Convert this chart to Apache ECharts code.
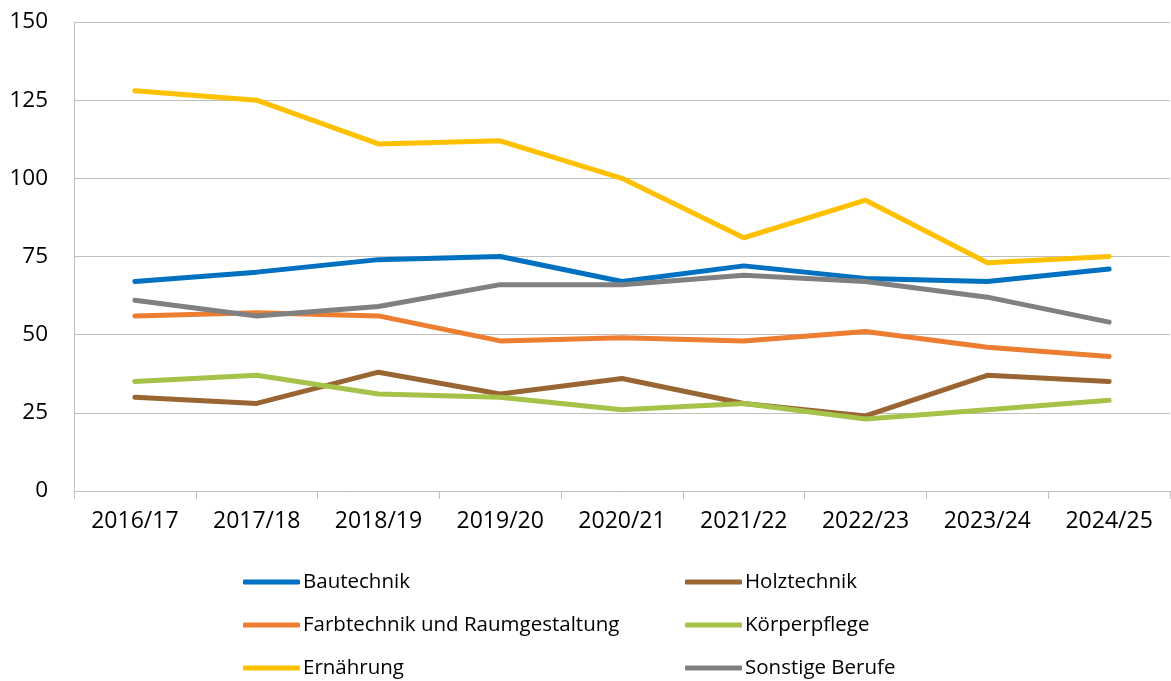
<!DOCTYPE html>
<html>
<head>
<meta charset="utf-8">
<script src="https://cdn.jsdelivr.net/npm/echarts@6/dist/echarts.min.js"></script>
<style>
  html, body { margin: 0; padding: 0; background: #fff; }
  #main { width: 1171px; height: 681px; }
</style>
</head>
<body>
<div id="main"></div>
<script>
// Schuljahre
var categories = ["2016/17", "2017/18", "2018/19", "2019/20", "2020/21", "2021/22", "2022/23", "2023/24", "2024/25"];

var bautechnik   = [67, 70, 74, 75, 67, 72, 68, 67, 71];
var holztechnik  = [30, 28, 38, 31, 36, 28, 24, 37, 35];
var farbtechnik  = [56, 57, 56, 48, 49, 48, 51, 46, 43];
var koerperpflege = [35, 37, 31, 30, 26, 28, 23, 26, 29];
var ernaehrung   = [128, 125, 111, 112, 100, 81, 93, 73, 75];
var sonstige     = [61, 56, 59, 66, 66, 69, 67, 62, 54];

var yTicks = [0, 25, 50, 75, 100, 125, 150];

var font = "'Open Sans', sans-serif";

function line(name, data, color) {
  return {
    name: name,
    type: "line",
    data: data,
    symbol: "none",
    smooth: false,
    lineStyle: { color: color, width: 5, cap: "round", join: "round" },
    itemStyle: { color: color },
  };
}

function legendCol(left, names) {
  return {
    orient: "vertical",
    left: left,
    top: 570,
    height: 111,
    padding: 0,
    data: names,
    icon: "roundRect",
    itemWidth: 57,
    itemHeight: 5,
    itemGap: 19,
    textStyle: { color: "#000", fontSize: 20.5, fontFamily: font, lineHeight: 24, padding: [0, 0, 0, -2] },
  };
}

var chart = echarts.init(document.getElementById("main"));
var option = {
  animation: false,
  backgroundColor: "#fff",
  grid: { left: 74, right: 1, top: 22, bottom: 190 },
  xAxis: {
    type: "category",
    data: categories,
    boundaryGap: true,
    axisLine: { lineStyle: { color: "#bfbfbf", width: 1 } },
    axisTick: { show: true, length: 8, lineStyle: { color: "#bfbfbf" } },
    axisLabel: { color: "#000", fontSize: 23, fontFamily: font, margin: 19 },
  },
  yAxis: {
    type: "value",
    min: yTicks[0],
    max: yTicks[yTicks.length - 1],
    interval: 25,
    axisLine: { show: true, lineStyle: { color: "#bfbfbf", width: 1 } },
    axisTick: { show: false },
    splitLine: { lineStyle: { color: "#bfbfbf", width: 1 } },
    axisLabel: { color: "#000", fontSize: 22.5, fontFamily: font, margin: 26 },
  },
  legend: [
    legendCol(243, ["Bautechnik", "Farbtechnik und Raumgestaltung", "Ernährung"]),
    legendCol(685, ["Holztechnik", "Körperpflege", "Sonstige Berufe"]),
  ],
  series: [
    line("Bautechnik", bautechnik, "#0070C0"),
    line("Holztechnik", holztechnik, "#996633"),
    line("Farbtechnik und Raumgestaltung", farbtechnik, "#ED7D31"),
    line("Körperpflege", koerperpflege, "#A5C249"),
    line("Ernährung", ernaehrung, "#FFC000"),
    line("Sonstige Berufe", sonstige, "#808080"),
  ],
};
chart.setOption(option);
</script>
</body>
</html>
